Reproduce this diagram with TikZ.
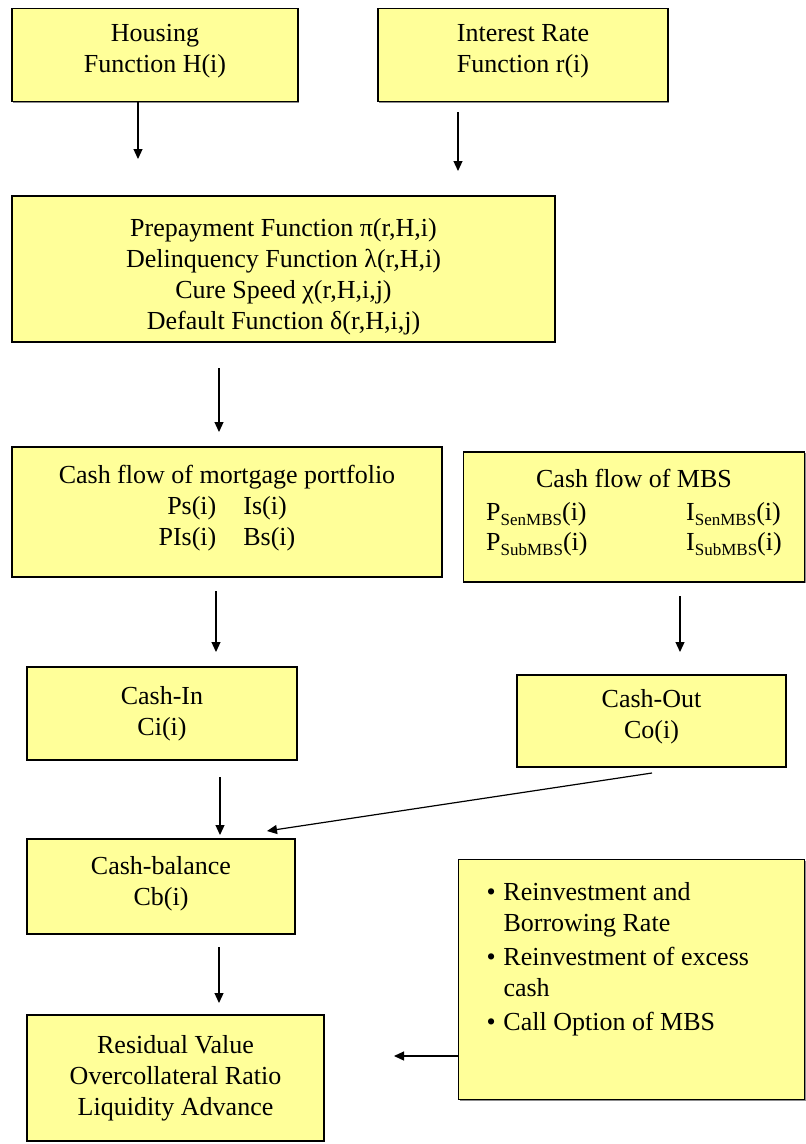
\documentclass[tikz,border=0pt]{standalone}
\usepackage{fontspec}
\setmainfont{Liberation Serif}
\usetikzlibrary{arrows.meta,shadows}
\definecolor{boxyellow}{HTML}{FFFF99}
\newcommand\subt[1]{\raisebox{-5pt}{\fontsize{17}{20}\selectfont #1}}
\newcommand\bul{\makebox[17pt][l]{•}}
% \bx{width}{height}{top space}{content}
\newcommand\bx[4]{\parbox[c][#2][t]{#1}{\centering\vspace*{#3}\strut #4}}
\begin{document}
\begin{tikzpicture}[x=1pt,y=-1pt,
  box/.style={draw=black, line width=1.5pt, fill=boxyellow, inner sep=0pt,
    align=center, font=\fontsize{26}{31}\selectfont,
    drop shadow={shadow xshift=1.2pt, shadow yshift=-1.2pt, fill=black!45, opacity=1}},
  arr/.style={line width=1.2pt, -{Triangle[length=10pt,width=9pt]}}]
\useasboundingbox (0,0) rectangle (806,1144);
% boxes
\node[box] (housing) at (155,55) {\bx{286pt}{93pt}{11pt}{Housing\\Function H(i)}};
\node[box] (interest) at (523,55) {\bx{290pt}{93pt}{11pt}{Interest Rate\\Function r(i)}};
\node[box] (funcs) at (283.5,269)
  {\bx{543pt}{146pt}{19pt}{Prepayment Function π(r,H,i)\\Delinquency Function λ(r,H,i)\\Cure Speed χ(r,H,i,j)\\Default Function δ(r,H,i,j)}};
\node[box] (mort) at (227,512)
  {\bx{430pt}{130pt}{15pt}{Cash flow of mortgage portfolio\\
   \begin{tabular}[t]{@{}r@{\hspace{27pt}}l@{}}Ps(i) & Is(i)\\ PIs(i) & Bs(i)\end{tabular}}};
\node[box] (mbs) at (634,517)
  {\bx{341pt}{130pt}{14pt}{Cash flow of MBS\\[2pt]
   \begin{tabular}[t]{@{}p{200pt}@{}l@{}}P\subt{SenMBS}(i) & I\subt{SenMBS}(i)\\[-1pt]
     P\subt{SubMBS}(i) & I\subt{SubMBS}(i)\end{tabular}}};
\node[box] (cashin) at (162,713.5) {\bx{270pt}{93pt}{16pt}{Cash-In\\Ci(i)}};
\node[box] (cashout) at (651.5,721) {\bx{269pt}{92pt}{11pt}{Cash-Out\\Co(i)}};
\node[box] (cb) at (161,886.5) {\bx{268pt}{95pt}{14pt}{Cash-balance\\Cb(i)}};
\node[box] (resid) at (175.5,1078)
  {\bx{297pt}{126pt}{17pt}{Residual Value\\Overcollateral Ratio\\Liquidity Advance}};
\node[box, align=left] (reinv) at (631.5,979.5)
  {\parbox[c][240pt][t]{346pt}{\raggedright\leftskip=28pt\vspace*{23pt}%
   \bul Reinvestment and\\ \hspace*{17pt}Borrowing Rate\\[3pt]
   \bul Reinvestment of excess\\ \hspace*{17pt}cash\\[3pt]
   \bul Call Option of MBS}};
% connector end points
\coordinate (e1) at (138,159);
\coordinate (s2) at (458,112);
\coordinate (e2) at (458,171);
\coordinate (s3) at (219,368);
\coordinate (e3) at (219,432);
\coordinate (s4) at (216,591);
\coordinate (e4) at (216,652);
\coordinate (s5) at (680,596);
\coordinate (e5) at (680,652);
\coordinate (s6) at (220,777);
\coordinate (e6) at (220,835);
\coordinate (s7) at (652,773);
\coordinate (e7) at (267,831);
\coordinate (s8) at (219,947);
\coordinate (e8) at (219,1003);
\coordinate (e9) at (394,1056);
% connectors
\draw[arr] (housing.south -| e1) -- (e1);
\draw[arr] (s2) -- (e2);
\draw[arr] (s3) -- (e3);
\draw[arr] (s4) -- (e4);
\draw[arr] (s5) -- (e5);
\draw[arr] (s6) -- (e6);
\draw[arr] (s7) -- (e7);
\draw[arr] (s8) -- (e8);
\draw[arr] (reinv.west |- e9) -- (e9);
\end{tikzpicture}
\end{document}
